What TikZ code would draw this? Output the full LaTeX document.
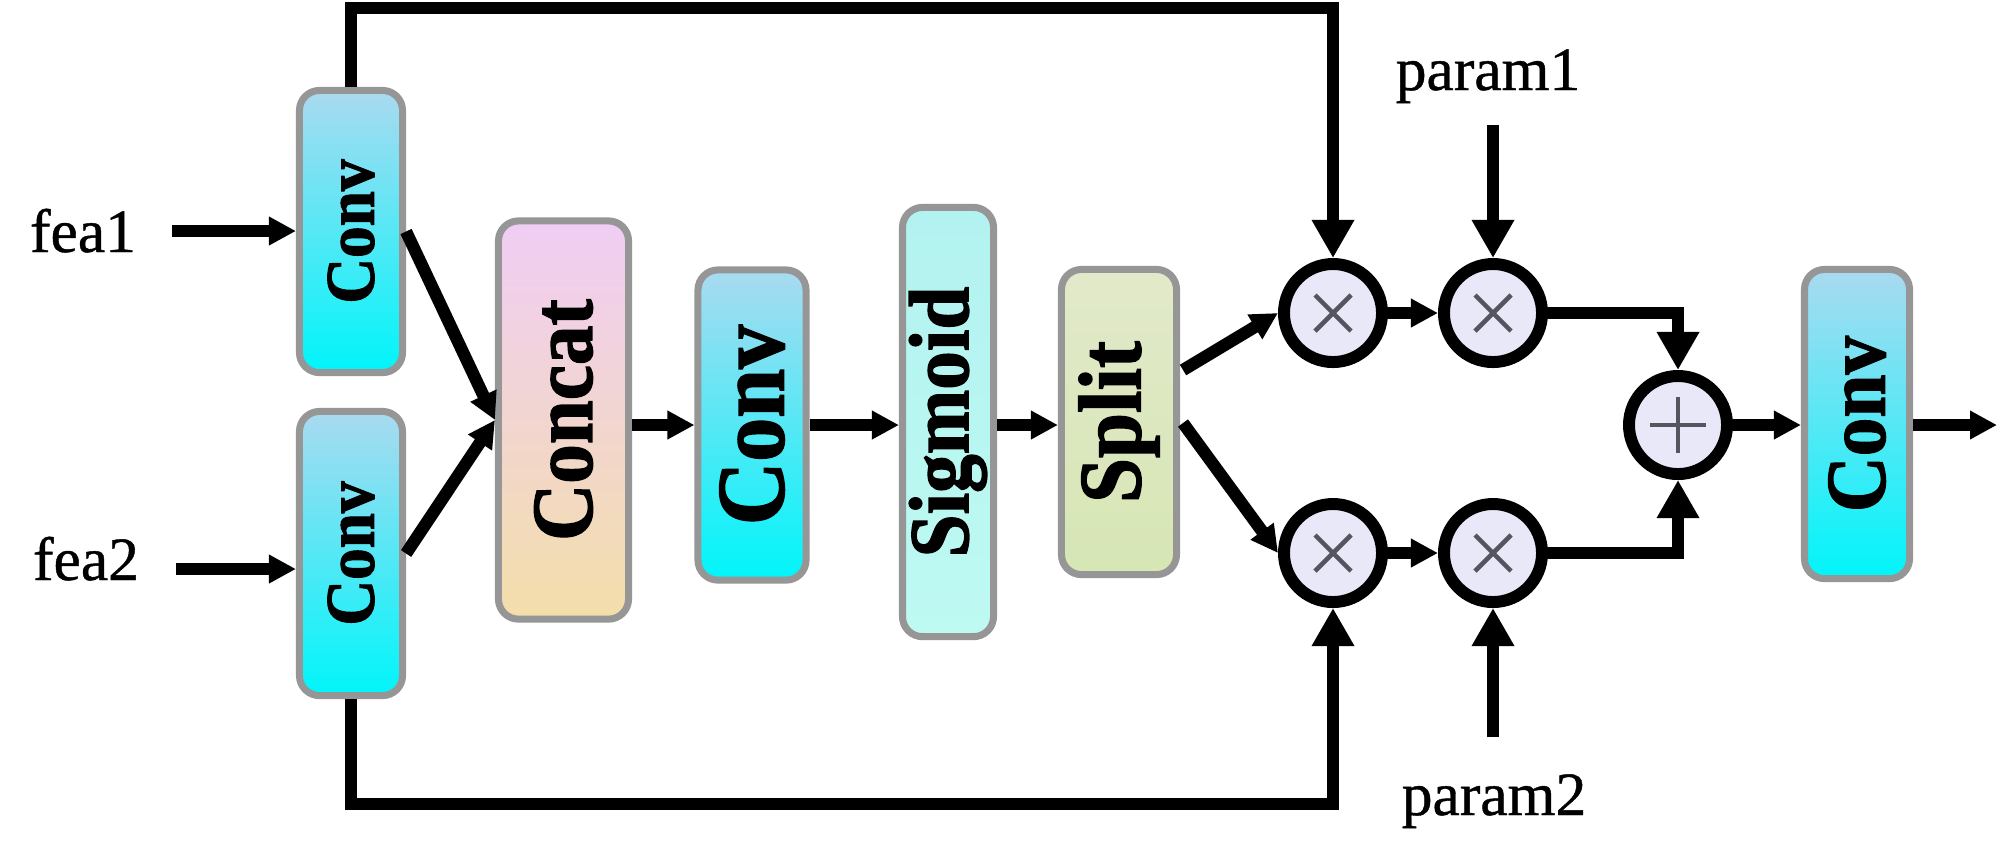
\documentclass[tikz,border=0pt]{standalone}
\usepackage{fontspec}
\setmainfont{Liberation Serif}
\newfontfamily\boxfont{Liberation Serif}[FakeBold=1.6]
\newfontfamily\lblfont{Liberation Serif}[FakeBold=0.7]
\usetikzlibrary{arrows.meta,calc}
\definecolor{bordgray}{RGB}{150,150,150}
\definecolor{convtop}{RGB}{170,218,240}
\definecolor{convbot}{RGB}{0,245,250}
\definecolor{cattop}{RGB}{240,205,245}
\definecolor{catmid}{RGB}{240,215,228}
\definecolor{catbot}{RGB}{243,222,170}
\definecolor{sigtop}{RGB}{178,242,240}
\definecolor{sigbot}{RGB}{190,250,242}
\definecolor{spltop}{RGB}{226,233,202}
\definecolor{splbot}{RGB}{214,230,180}
\definecolor{opfill}{RGB}{232,232,248}
\definecolor{opsym}{RGB}{85,85,95}
\newcommand{\bxt}[2]{\rotatebox{90}{\scalebox{1}[1.1]{\fontsize{#1}{#1}\boxfont\bfseries #2}}}
\tikzset{
  blk/.style={draw=bordgray, line width=2pt, rounded corners=0.2cm, inner sep=0pt},
  convblk/.style={blk, top color=convtop, bottom color=convbot},
  catblk/.style={blk, top color=cattop, middle color=catmid, bottom color=catbot},
  sigblk/.style={blk, top color=sigtop, bottom color=sigbot},
  splblk/.style={blk, top color=spltop, bottom color=splbot},
  lbl/.style={font=\fontsize{17.5pt}{20pt}\lblfont, inner sep=0pt},
  opnode/.style={circle, draw=black, line width=3.4pt, fill=opfill, minimum size=0.98cm, inner sep=0pt},
  mulop/.style={opnode, path picture={
      \draw[opsym, line width=1.3pt]
        ($(path picture bounding box.center)+(-0.18cm,-0.18cm)$) -- ($(path picture bounding box.center)+(0.18cm,0.18cm)$)
        ($(path picture bounding box.center)+(-0.18cm,0.18cm)$) -- ($(path picture bounding box.center)+(0.18cm,-0.18cm)$);}},
  addop/.style={opnode, path picture={
      \draw[opsym, line width=1.2pt]
        ($(path picture bounding box.center)+(-0.28cm,0)$) -- ($(path picture bounding box.center)+(0.28cm,0)$)
        ($(path picture bounding box.center)+(0,-0.28cm)$) -- ($(path picture bounding box.center)+(0,0.28cm)$);}},
  conn/.style={line width=3.5pt, draw=black},
  arr/.style={conn, -{Triangle[length=0.27cm,width=0.27cm]}},
  bigarr/.style={conn, -{Triangle[length=0.38cm,width=0.40cm]}},
}
\begin{document}
\begin{tikzpicture}[x=0.01cm,y=-0.01cm]
\useasboundingbox (0,0) rectangle (2000,847);
\fill[white] (0,0) rectangle (2000,847);

% blocks
\node[convblk, minimum width=1.03cm, minimum height=2.82cm] (conv1) at (351,231.5) {\bxt{18pt}{Conv}};
\node[convblk, minimum width=1.03cm, minimum height=2.84cm] (conv2) at (351,553.5) {\bxt{18pt}{Conv}};
\node[catblk, minimum width=1.30cm, minimum height=3.98cm] (concat) at (563.5,420) {\bxt{22.5pt}{Concat}};
\node[convblk, minimum width=1.08cm, minimum height=3.10cm] (convm) at (752,425) {\bxt{25pt}{Conv}};
\node[sigblk, minimum width=0.91cm, minimum height=4.29cm] (sigm) at (948,422) {\bxt{22pt}{Sigmoid}};
\node[splblk, minimum width=1.15cm, minimum height=3.05cm] (split) at (1119,422) {\bxt{23pt}{Split}};
\node[convblk, minimum width=1.05cm, minimum height=3.09cm] (convo) at (1857,424) {\bxt{22pt}{Conv}};

% operators
\node[mulop] (m1) at (1333,313) {};
\node[mulop] (m2) at (1493,313) {};
\node[mulop] (m3) at (1333,553) {};
\node[mulop] (m4) at (1493,553) {};
\node[addop] (plus) at (1678,425) {};

% labels
\node[lbl, anchor=base] (fea1) at (83,252) {fea1};
\node[lbl, anchor=base] (fea2) at (86,580) {fea2};
\node[lbl, anchor=base] (param1) at (1488,90) {param1};
\node[lbl, anchor=base] (param2) at (1494,815) {param2};

% helper coordinates
\coordinate (f1s) at (172,231);
\coordinate (f2s) at (176,569);
\coordinate (axis) at (0,425);
\coordinate (topy) at (0,8);
\coordinate (boty) at (0,804);
\coordinate (s1) at (1183,370);
\coordinate (s2) at (1183,423);
\coordinate (p1s) at (1493,125);
\coordinate (p2s) at (1493,737);
\coordinate (outend) at (1997,425);

% connectors
\draw[arr] (f1s) -- (f1s -| conv1.west);
\draw[arr] (f2s) -- (f2s -| conv2.west);
\draw[arr] (conv1.east) -- (concat.west);
\draw[arr] (conv2.east) -- (concat.west);
\draw[arr] (concat.east |- axis) -- (convm.west |- axis);
\draw[arr] (convm.east |- axis) -- (sigm.west |- axis);
\draw[arr] (sigm.east |- axis) -- (split.west |- axis);
\draw[arr] (s1) -- (m1.west);
\draw[arr] (s2) -- (m3.west);
\draw[arr] (m1.east) -- (m2.west);
\draw[arr] (m3.east) -- (m4.west);
\draw[bigarr] (m2.east) -| (plus.north);
\draw[bigarr] (m4.east) -| (plus.south);
\draw[arr] (plus.east) -- (plus.east -| convo.west);
\draw[arr] (convo.east |- plus.east) -- (outend);
\draw[bigarr] (conv1.north) -- (conv1.north |- topy) -| (m1.north);
\draw[bigarr] (conv2.south) -- (conv2.south |- boty) -| (m3.south);
\draw[bigarr] (p1s) -- (m2.north);
\draw[bigarr] (p2s) -- (m4.south);
\end{tikzpicture}
\end{document}
